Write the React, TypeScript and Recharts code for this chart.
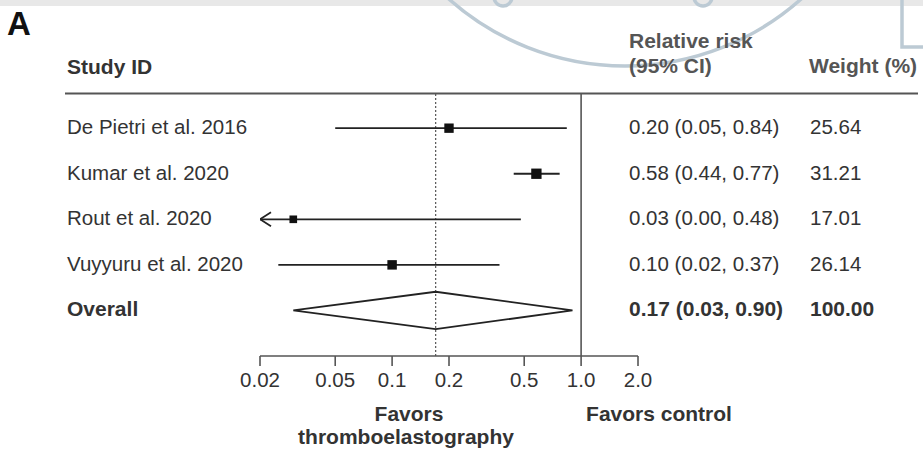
import React from 'react';
import {
  ComposedChart, Scatter, XAxis, YAxis, ReferenceLine,
} from 'recharts';

// studies, top to bottom
const studies = ['De Pietri et al. 2016', 'Kumar et al. 2020', 'Rout et al. 2020', 'Vuyyuru et al. 2020'];
const relRisk = [0.20, 0.58, 0.03, 0.10];
const ciLow = [0.05, 0.44, 0.0, 0.025];
const ciHigh = [0.84, 0.77, 0.48, 0.37];
const ciText = ['0.20 (0.05, 0.84)', '0.58 (0.44, 0.77)', '0.03 (0.00, 0.48)', '0.10 (0.02, 0.37)'];
const weights = [25.64, 31.21, 17.01, 26.14];
const weightText = ['25.64', '31.21', '17.01', '26.14'];

const overallLabel = 'Overall';
const overallRR = 0.17;
const overallLow = 0.03;
const overallHigh = 0.90;
const overallText = '0.17 (0.03, 0.90)';
const overallWeight = '100.00';

const xMin = 0.02;
const xMax = 2;
const xTicks = [0.02, 0.05, 0.1, 0.2, 0.5, 1, 2];
const xTickLabels = ['0.02', '0.05', '0.1', '0.2', '0.5', '1.0', '2.0'];

const INK = '#222';
const TEXT = '#333';
const FS = 20.5;
const FS_BOLD = 21;
const DIAMOND_HALF = 0.41; // in row units

const rows = studies.map((s, i) => i);
const overallRow = studies.length;

const squareData = studies.map((s, i) => ({ x: relRisk[i], y: i, w: weights[i] }));
const arrowData = studies
  .map((s, i) => ({ x: xMin, y: i, low: ciLow[i] }))
  .filter((d) => d.low < xMin);
const diamondData = [
  { x: overallLow, y: overallRow },
  { x: overallRR, y: overallRow - DIAMOND_HALF },
  { x: overallHigh, y: overallRow },
  { x: overallRR, y: overallRow + DIAMOND_HALF },
  { x: overallLow, y: overallRow },
];

const RowTick = (props: any) => {
  const { y, payload } = props;
  const i = payload.value;
  const isOverall = i === overallRow;
  return (
    <g fontSize={isOverall ? FS_BOLD : FS} fill={TEXT} fontWeight={isOverall ? 700 : 400}>
      <text x={67} y={y} dy={6}>{isOverall ? overallLabel : studies[i]}</text>
      <text x={629} y={y} dy={6}>{isOverall ? overallText : ciText[i]}</text>
      <text x={810} y={y} dy={6}>{isOverall ? overallWeight : weightText[i]}</text>
    </g>
  );
};

const Square = (props: any) => {
  const { cx, cy, payload } = props;
  const s = Math.sqrt(payload.w) * 1.85;
  return <rect x={cx - s / 2} y={cy - s / 2} width={s} height={s} fill="#111" />;
};

const Arrow = (props: any) => {
  const { cx, cy } = props;
  return (
    <path d={`M ${cx + 11} ${cy - 7} L ${cx} ${cy} L ${cx + 11} ${cy + 7}`}
      fill="none" stroke={INK} strokeWidth={1.8} />
  );
};

const NoDot = () => <g />;

export default function App() {
  return (
    <div style={{
      position: 'absolute', left: 0, top: 0, width: 923, height: 451, background: '#fff',
      fontFamily: '"Liberation Sans", Arial, sans-serif', overflow: 'hidden',
    }}>
      {/* faint watermark from the source scan */}
      <svg width={923} height={451} style={{ position: 'absolute', left: 0, top: 0 }}>
        <rect x={0} y={0} width={923} height={6} fill="#e8e8e8" />
        <circle cx={625} cy={-199} r={265} fill="none" stroke="#bccad4" strokeWidth={3.5} />
        <circle cx={503} cy={-3} r={9} fill="none" stroke="#bccad4" strokeWidth={3.5} />
        <circle cx={703} cy={-3} r={9} fill="none" stroke="#bccad4" strokeWidth={3.5} />
        <path d="M 902 0 V 47 H 923" fill="none" stroke="#bccad4" strokeWidth={3.5} />
      </svg>

      <div style={{ position: 'absolute', left: 0, top: 0 }}>
        <ComposedChart width={923} height={451} margin={{ top: 94, right: 285, bottom: 55, left: 0 }}>
          <XAxis
            dataKey="x" type="number" scale="log" domain={[xMin, xMax]} allowDataOverflow
            ticks={xTicks} tickFormatter={(v: number) => xTickLabels[xTicks.indexOf(v)] ?? String(v)}
            height={40} tickSize={10} tickMargin={6}
            stroke="#555" strokeWidth={1.6}
            tick={{ fontSize: FS, fill: TEXT }}
          />
          <YAxis
            dataKey="y" type="number" domain={[-0.75, 5.0]} reversed allowDataOverflow
            ticks={[...rows, overallRow]} interval={0}
            width={260} axisLine={false} tickLine={false} tick={<RowTick />}
          />
          <ReferenceLine x={1} stroke="#555" strokeWidth={1.6} ifOverflow="visible" />
          <ReferenceLine x={overallRR} stroke="#555" strokeWidth={1.2} strokeDasharray="2 2" ifOverflow="visible" />
          {studies.map((s, i) => (
            <ReferenceLine
              key={s}
              segment={[{ x: Math.max(ciLow[i], xMin), y: i }, { x: ciHigh[i], y: i }]}
              stroke={INK} strokeWidth={1.8} ifOverflow="visible"
            />
          ))}
          <Scatter data={squareData} shape={<Square />} isAnimationActive={false} />
          <Scatter data={arrowData} shape={<Arrow />} isAnimationActive={false} />
          <Scatter
            data={diamondData} shape={<NoDot />} line={{ stroke: INK, strokeWidth: 1.8 }}
            lineType="joint" isAnimationActive={false}
          />
        </ComposedChart>
      </div>

      {/* header, panel letter and direction labels */}
      <svg width={923} height={451} style={{ position: 'absolute', left: 0, top: 0, pointerEvents: 'none' }}>
        <text x={7} y={35} fontSize={33} fontWeight={700} fill="#111">A</text>
        <text x={67} y={74} fontSize={FS_BOLD} fontWeight={700} fill={TEXT}>Study ID</text>
        <text x={629} y={48} fontSize={FS_BOLD} fontWeight={700} fill="#555">Relative risk</text>
        <text x={629} y={73} fontSize={FS_BOLD} fontWeight={700} fill="#555">(95% CI)</text>
        <text x={809} y={73} fontSize={FS_BOLD} fontWeight={700} fill="#555">Weight (%)</text>
        <line x1={65} y1={93.5} x2={918} y2={93.5} stroke="#555" strokeWidth={2} />
        <text x={409} y={421} fontSize={FS_BOLD} fontWeight={700} fill={TEXT} textAnchor="middle">Favors</text>
        <text x={406} y={444} fontSize={FS_BOLD} fontWeight={700} fill={TEXT} textAnchor="middle">thromboelastography</text>
        <text x={659} y={421} fontSize={FS_BOLD} fontWeight={700} fill={TEXT} textAnchor="middle">Favors control</text>
      </svg>
    </div>
  );
}
